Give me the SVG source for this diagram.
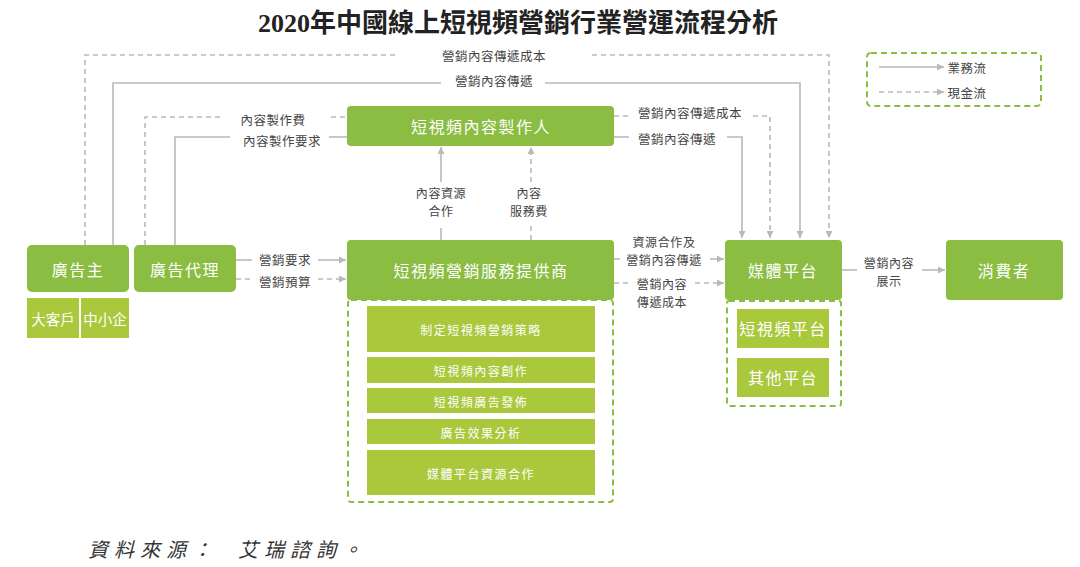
<svg xmlns="http://www.w3.org/2000/svg" width="1080" height="567" viewBox="0 0 1080 567">
<defs>
<style>
.n{fill:#8abd41}
.l{fill:#a9c83b}
.nt{font-family:"Noto Sans CJK TC","Noto Sans CJK SC",sans-serif;fill:#fff;font-size:16px;letter-spacing:1.5px;text-anchor:middle;dominant-baseline:central}
.st{font-family:"Noto Sans CJK TC","Noto Sans CJK SC",sans-serif;fill:#fff;font-size:12px;letter-spacing:1.5px;text-anchor:middle;dominant-baseline:central}
.lb{font-family:"Noto Sans CJK TC","Noto Sans CJK SC",sans-serif;fill:#444;font-size:12.5px;letter-spacing:0.5px;text-anchor:middle;dominant-baseline:central}
.lb2{font-family:"Noto Sans CJK TC","Noto Sans CJK SC",sans-serif;fill:#444;font-size:12px;letter-spacing:0.6px;text-anchor:middle;dominant-baseline:central}
.s{fill:none;stroke:#b9b9b9;stroke-width:1.6}
.d{fill:none;stroke:#b9b9b9;stroke-width:1.6;stroke-dasharray:5 4}
.g{fill:none;stroke:#8abd41;stroke-width:2;stroke-dasharray:6 4}
</style>
<marker id="a" viewBox="0 0 10 10" refX="10" refY="5" markerWidth="7" markerHeight="7" markerUnits="userSpaceOnUse" orient="auto"><path d="M0,0 L10,5 L0,10 z" fill="#b9b9b9"/></marker>
</defs>
<rect width="1080" height="567" fill="#fff"/>
<text x="518" y="23" font-family="Liberation Serif,'Noto Sans CJK TC',serif" font-weight="bold" font-size="26" fill="#222" text-anchor="middle" dominant-baseline="central">2020年中國線上短視頻營銷行業營運流程分析</text>

<g id="connectors">
<path class="d" d="M85,245 V55 H395"/>
<path class="d" d="M592,55 H829 V238" marker-end="url(#a)"/>
<text class="lb" x="494" y="55">營銷內容傳遞成本</text>
<path class="s" d="M113,245 V83 H441"/>
<path class="s" d="M545,83 H800 V238" marker-end="url(#a)"/>
<text class="lb" x="494" y="80">營銷內容傳遞</text>
<path class="d" d="M145,245 V117 H220"/>
<path class="d" d="M331,117 H347"/>
<text class="lb" x="273" y="119">內容製作費</text>
<path class="s" d="M175,245 V137 H230"/>
<path class="s" d="M329,137 H347"/>
<text class="lb" x="282" y="140">內容製作要求</text>
<path class="d" d="M614,116 H629"/>
<path class="d" d="M753,116 H770 V238" marker-end="url(#a)"/>
<text class="lb" x="690" y="112">營銷內容傳遞成本</text>
<path class="s" d="M614,137 H629"/>
<path class="s" d="M727,137 H742 V238" marker-end="url(#a)"/>
<text class="lb" x="677" y="138">營銷內容傳遞</text>
<path class="s" d="M441,240 V228"/>
<path class="s" d="M441,182 V147" marker-end="url(#a)"/>
<text class="lb2" x="441" y="192">內容資源</text>
<text class="lb2" x="441" y="210">合作</text>
<path class="d" d="M531,240 V225"/>
<path class="d" d="M531,182 V147" marker-end="url(#a)"/>
<text class="lb2" x="529" y="192">內容</text>
<text class="lb2" x="529" y="210">服務費</text>
<path class="s" d="M236,260 H252"/>
<path class="s" d="M318,260 H346" marker-end="url(#a)"/>
<text class="lb" x="285" y="259">營銷要求</text>
<path class="d" d="M236,279 H252"/>
<path class="d" d="M318,279 H346" marker-end="url(#a)"/>
<text class="lb" x="285" y="281">營銷預算</text>
<path class="s" d="M614,259 H620"/>
<path class="s" d="M710,259 H724" marker-end="url(#a)"/>
<text class="lb2" x="664" y="241">資源合作及</text>
<text class="lb2" x="664" y="259">營銷內容傳遞</text>
<path class="d" d="M614,283 H630"/>
<path class="d" d="M695,283 H724" marker-end="url(#a)"/>
<text class="lb2" x="662" y="283">營銷內容</text>
<text class="lb2" x="662" y="301">傳遞成本</text>
<path class="s" d="M842,270 H857"/>
<path class="s" d="M922,270 H945" marker-end="url(#a)"/>
<text class="lb2" x="889" y="262">營銷內容</text>
<text class="lb2" x="889" y="280">展示</text>
</g>

<g id="legend">
<rect x="867" y="53" width="174" height="53" rx="4" class="g"/>
<path class="s" d="M879,67 H944" marker-end="url(#a)"/>
<text class="lb" x="967" y="67">業務流</text>
<path class="d" d="M879,92 H944" marker-end="url(#a)"/>
<text class="lb" x="967" y="92">現金流</text>
</g>

<g id="advertiser">
<rect class="n" x="27" y="245" width="102" height="47" rx="5"/>
<text class="nt" x="78" y="269">廣告主</text>
</g>
<g id="bigclient">
<rect class="l" x="27" y="298" width="52" height="40"/>
<text class="nt" x="53" y="318" style="font-size:14.5px;letter-spacing:0">大客戶</text>
</g>
<g id="sme">
<rect class="l" x="81" y="298" width="48" height="40"/>
<text class="nt" x="105" y="318" style="font-size:14.5px;letter-spacing:0">中小企</text>
</g>
<g id="agency">
<rect class="n" x="134" y="245" width="102" height="47" rx="5"/>
<text class="nt" x="185" y="269">廣告代理</text>
</g>
<g id="creator">
<rect class="n" x="347" y="106" width="267" height="40" rx="4"/>
<text class="nt" x="481" y="126">短視頻內容製作人</text>
</g>
<g id="provider">
<rect class="n" x="347" y="240" width="267" height="60" rx="4"/>
<text class="nt" x="481" y="270">短視頻營銷服務提供商</text>
<rect class="g" x="348" y="300" width="265" height="202" rx="3"/>
<rect class="l" x="367" y="306" width="228" height="46"/>
<text class="st" x="481" y="329">制定短視頻營銷策略</text>
<rect class="l" x="367" y="357" width="228" height="26"/>
<text class="st" x="481" y="370">短視頻內容創作</text>
<rect class="l" x="367" y="388" width="228" height="25"/>
<text class="st" x="481" y="401">短視頻廣告發佈</text>
<rect class="l" x="367" y="419" width="228" height="25"/>
<text class="st" x="481" y="432">廣告效果分析</text>
<rect class="l" x="367" y="450" width="228" height="45"/>
<text class="st" x="481" y="473">媒體平台資源合作</text>
</g>
<g id="media">
<rect class="n" x="725" y="240" width="117" height="60" rx="4"/>
<text class="nt" x="783" y="270">媒體平台</text>
<rect class="g" x="727" y="301" width="114" height="105" rx="2"/>
<rect class="l" x="737" y="309" width="92" height="39"/>
<text class="nt" x="783" y="328">短視頻平台</text>
<rect class="l" x="737" y="358" width="92" height="39"/>
<text class="nt" x="783" y="377">其他平台</text>
</g>
<g id="consumer">
<rect class="n" x="946" y="240" width="117" height="60" rx="4"/>
<text class="nt" x="1004" y="270">消費者</text>
</g>

<g id="source" font-family="'Noto Sans CJK TC',sans-serif" font-size="20" font-style="italic" fill="#333" letter-spacing="6" dominant-baseline="central">
<text x="88" y="548">資料來源：</text>
<text x="238" y="548">艾瑞諮詢。</text>
</g>
</svg>
